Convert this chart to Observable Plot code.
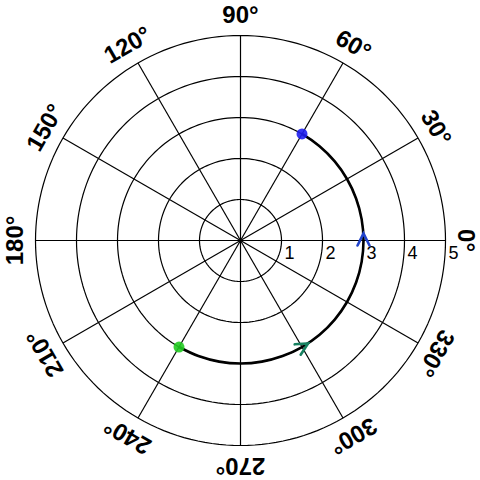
<!DOCTYPE html>
<html>
<head>
<meta charset="utf-8">
<script src="https://cdn.jsdelivr.net/npm/d3@7"></script>
<script src="https://cdn.jsdelivr.net/npm/@observablehq/plot@0.6"></script>
<style>
  html, body { margin: 0; padding: 0; background: #fff; }
  #chart svg { display: block; }
</style>
</head>
<body>
<div id="chart"></div>
<script>
// ---- data ----
const ringRadii = [1, 2, 3, 4, 5];
const radialLabels = ["1", "2", "3", "4", "5"];
const spokeAngles = [0, 30, 60, 90, 120, 150, 180, 210, 240, 270, 300, 330];
const angleLabels = ["0°", "30°", "60°", "90°", "120°", "150°", "180°", "210°", "240°", "270°", "300°", "330°"];

// trajectory (theta in degrees, r)
const pathTheta = [240, 250, 260, 270, 280, 290, 300, 310, 320, 330, 340, 350, 360, 370, 380, 390, 400, 410, 420];
const pathR     = [3, 3, 3, 3, 3, 3, 3, 3, 3, 3, 3, 3, 3, 3, 3, 3, 3, 3, 3];

// end points
const pointTheta = [60, 240];
const pointR = [3, 3];
const pointColor = ["#1f1ff0", "#22cc22"];

// direction arrows
const arrowTheta = [0, 300];
const arrowR = [3, 3];
const arrowColor = ["#2244cc", "#178060"];

// ---- helpers ----
const rad = (d) => d * Math.PI / 180;
const px = (r, t) => r * Math.cos(rad(t));
const py = (r, t) => r * Math.sin(rad(t));
const rMax = d3.max(ringRadii);
const labelR = 5.5;

const ringPts = ringRadii.flatMap((r) =>
  d3.range(0, 361, 2).map((t) => ({ ring: r, x: px(r, t), y: py(r, t) })));
const spokes = spokeAngles.map((t) => ({ x2: px(rMax, t), y2: py(rMax, t) }));
const angleText = spokeAngles.map((t, i) => ({
  x: px(labelR, t), y: py(labelR, t), label: angleLabels[i], rot: 90 - t
}));
const radialText = ringRadii.map((r, i) => ({ x: r, y: 0, label: radialLabels[i] }));
const path = pathTheta.map((t, i) => ({ x: px(pathR[i], t), y: py(pathR[i], t) }));
const points = pointTheta.map((t, i) => ({ x: px(pointR[i], t), y: py(pointR[i], t), c: pointColor[i] }));
const arrows = arrowTheta.map((t, i) => ({ x: px(arrowR[i], t), y: py(arrowR[i], t), c: arrowColor[i], rot: -t }));

const chevron = {
  draw(ctx, l, r) {
    ctx.moveTo(-6, -l + 12);
    ctx.lineTo(0, -l);
    ctx.lineTo(6, -l + 12);
  }
};

const half = 240 / 41;
const font = "'Liberation Sans', Arial, Helvetica, sans-serif";

const chart = Plot.plot({
  width: 480,
  height: 480,
  margin: 0,
  x: { domain: [-half, half], axis: null },
  y: { domain: [-half, half], axis: null },
  style: { background: "#fff", fontFamily: font },
  marks: [
    Plot.line(ringPts, { x: "x", y: "y", z: "ring", stroke: "#000", strokeWidth: 1.2 }),
    Plot.link(spokes, { x1: 0, y1: 0, x2: "x2", y2: "y2", stroke: "#000", strokeWidth: 1.2 }),
    Plot.text(radialText, { x: "x", y: "y", text: "label", textAnchor: "start", dx: 3, dy: 13,
      fontSize: 18, fill: "#000" }),
    Plot.text(angleText, { x: "x", y: "y", text: "label", rotate: "rot", fontSize: 24,
      fontWeight: "bold", fill: "#000", textAnchor: "middle", lineAnchor: "middle" }),
    Plot.line(path, { x: "x", y: "y", stroke: "#000", strokeWidth: 2.6, curve: "catmull-rom" }),
    Plot.vector(arrows, { x: "x", y: "y", rotate: "rot", length: 7, anchor: "start",
      shape: chevron, stroke: (d) => d.c, strokeWidth: 2.6, strokeLinejoin: "miter" }),
    Plot.dot(points, { x: "x", y: "y", r: 5.5, fill: (d) => d.c, fillOpacity: 0.9, stroke: "none" })
  ]
});
document.getElementById("chart").appendChild(chart);
</script>
</body>
</html>
